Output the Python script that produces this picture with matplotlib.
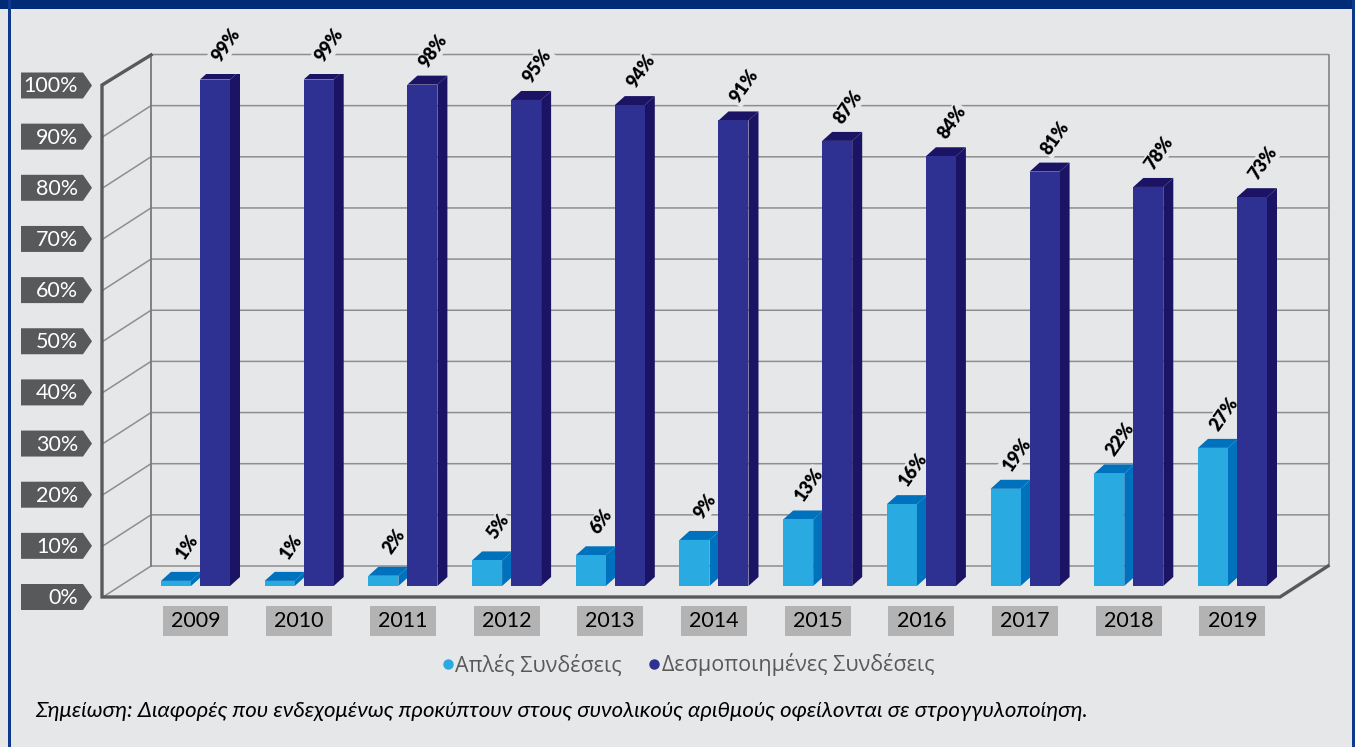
import matplotlib
matplotlib.use('Agg')
import matplotlib.pyplot as plt
from matplotlib.lines import Line2D
from matplotlib.patches import Polygon, Rectangle

plt.rcParams['font.family'] = ['Lato', 'Noto Sans', 'DejaVu Sans']

years = ['2009', '2010', '2011', '2012', '2013', '2014', '2015', '2016', '2017', '2018', '2019']
simple_vals = [1, 1, 2, 5, 6, 9, 13, 16, 19, 22, 27]
bonded_vals = [99, 99, 98, 95, 94, 91, 87, 84, 81, 78, 76]
simple_labels = ['1%', '1%', '2%', '5%', '6%', '9%', '13%', '16%', '19%', '22%', '27%']
bonded_labels = ['99%', '99%', '98%', '95%', '94%', '91%', '87%', '84%', '81%', '78%', '73%']
y_ticks = [0, 10, 20, 30, 40, 50, 60, 70, 80, 90, 100]
names = ['Απλές Συνδέσεις', 'Δεσμοποιημένες Συνδέσεις']
note = 'Σημείωση: Διαφορές που ενδεχομένως προκύπτουν στους συνολικούς αριθμούς οφείλονται σε στρογγυλοποίηση.'

W, H = 1355, 747
BG = '#e6e7e9'
LIGHT, LIGHT_DK = '#29abe2', '#0071bc'
NAVY, NAVY_DK = '#2e3192', '#1b1464'

fig = plt.figure(figsize=(W / 100, H / 100), dpi=100, facecolor=BG)

# pixel canvas for the frame and the 3d walls
bg = fig.add_axes([0, 0, 1, 1])
bg.set_xlim(0, W)
bg.set_ylim(H, 0)
bg.axis('off')
bg.add_patch(Rectangle((0, 0), W, 8.5, color='#002c77', lw=0))
bg.add_patch(Rectangle((8, 0), 3, H, color='#0f3a8c', lw=0))
bg.add_patch(Rectangle((1352, 0), 3, H, color='#0f3a8c', lw=0))

step = 51.15
for k, t in enumerate(y_ticks):
    yf = 597 - step * k
    yb = 566 - step * k
    bg.plot([103, 151, 1328], [yf, yb, yb], color='#8e8e8e', lw=1.1, solid_joinstyle='miter', zorder=1)
    bg.add_patch(Polygon([(21, yf - 13), (83, yf - 13), (92, yf), (83, yf + 13), (21, yf + 13)],
                         closed=True, color='#58595b', lw=0))
    bg.text(78, yf + 1, '%d%%' % t, color='white', fontsize=15.5, ha='right', va='center')
bg.plot([151, 151], [55, 566], color='#7a7a7a', lw=1.3, zorder=1)
bg.plot([1328.5, 1328.5], [55, 566], color='#7a7a7a', lw=1.1, zorder=1)
bg.plot([151, 102, 102, 1280, 1328], [55, 85, 597, 597, 566], color='#595959', lw=2.4,
        solid_joinstyle='miter', zorder=2)

# bars, data units, x = category index
ax = fig.add_axes([143.65 / W, (H - 586) / H, (1284.35 - 143.65) / W, 511.6 / H])
ax.patch.set_alpha(0)
ax.set_xlim(-0.5, 10.5)
ax.set_ylim(0, 100)
for s in ax.spines.values():
    s.set_visible(False)

px = 1 / 103.7
py = 100 / 511.6
bw = 30 * px
dx, dy = 10 * px, 9 * py
off = 34.5 * px


def bar3d(x0, h, front, dark):
    ax.add_patch(Polygon([(x0 + bw, 0), (x0 + bw + dx, dy), (x0 + bw + dx, h + dy), (x0 + bw, h)],
                         closed=True, color=dark, lw=0, zorder=3))
    ax.add_patch(Polygon([(x0, h), (x0 + dx, h + dy), (x0 + bw + dx, h + dy), (x0 + bw, h)],
                         closed=True, color=dark, lw=0, zorder=3))
    ax.bar(x0, h, width=bw, align='edge', color=front, lw=0, zorder=4)


def value_label(x, h, txt):
    # mask only hides the gridlines, the bars stay on top of it
    for z, col, box in [(2, 'none', dict(boxstyle='square,pad=0.08', fc=BG, ec='none')), (6, 'black', None)]:
        ax.annotate(txt, (x, h), xytext=(11, 34), textcoords='offset pixels', rotation=55,
                    rotation_mode='anchor', ha='center', va='center', fontsize=13, fontweight='heavy',
                    color=col, zorder=z, annotation_clip=False, bbox=box)


for i in range(len(years)):
    bar3d(i - off, simple_vals[i], LIGHT, LIGHT_DK)
    bar3d(i - off + 39 * px, bonded_vals[i], NAVY, NAVY_DK)
    value_label(i - off + 15 * px, simple_vals[i], simple_labels[i])
    value_label(i - off + 54 * px, bonded_vals[i], bonded_labels[i])
    ax.add_patch(Rectangle((i - 33 * px, -50 * py), 66 * px, 30 * py, color='#b3b3b3', lw=0, clip_on=False))

ax.set_yticks([])
ax.set_xticks(range(len(years)))
ax.set_xticklabels(years, fontsize=15.5, color='black', va='center')
ax.tick_params(axis='x', length=0, pad=25)

handles = [Line2D([], [], ls='', marker='o', ms=6.5, color=LIGHT),
           Line2D([], [], ls='', marker='o', ms=6.5, color=NAVY)]
leg = fig.legend(handles, names, loc='center', bbox_to_anchor=(688.5 / W, (H - 665) / H), ncol=2,
                 frameon=False, handlelength=0.5, handletextpad=0.1, columnspacing=1.25,
                 prop={'family': 'Open Sans', 'size': 15.5})
for t in leg.get_texts():
    t.set_color('#595959')

bg.text(35, 711, note, fontsize=16, style='italic', color='black', ha='left', va='center')

fig.savefig('out.png', dpi=100, facecolor=BG)
